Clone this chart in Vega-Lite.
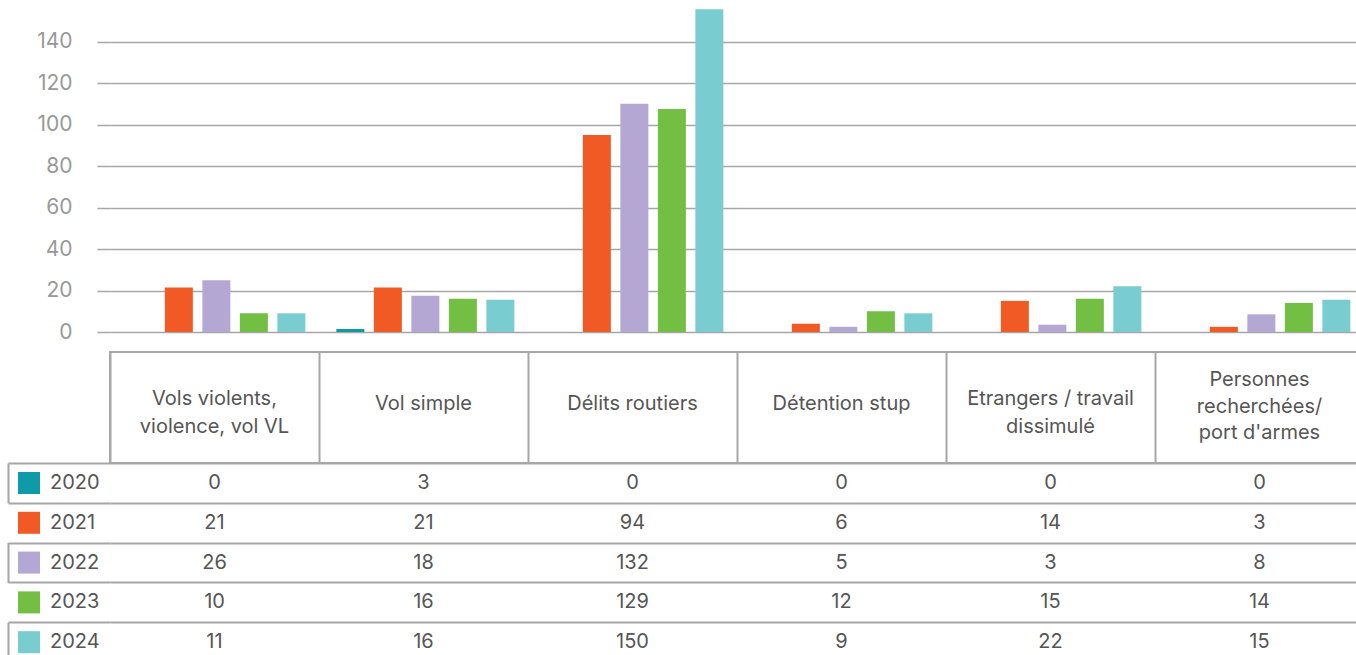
{
  "$schema": "https://vega.github.io/schema/vega-lite/v6.json",
  "padding": 0,
  "spacing": 0,
  "bounds": "flush",
  "config": {"view": {"stroke": null}, "font": "Inter", "text": {"font": "Inter"}},
  "datasets": {
    "rows": [
      {"cat": "Vols violents, violence, vol VL", "year": "2020", "bar": 0, "value": 0},
      {"cat": "Vols violents, violence, vol VL", "year": "2021", "bar": 21.5, "value": 21},
      {"cat": "Vols violents, violence, vol VL", "year": "2022", "bar": 25, "value": 26},
      {"cat": "Vols violents, violence, vol VL", "year": "2023", "bar": 9, "value": 10},
      {"cat": "Vols violents, violence, vol VL", "year": "2024", "bar": 9, "value": 11},
      {"cat": "Vol simple", "year": "2020", "bar": 1.5, "value": 3},
      {"cat": "Vol simple", "year": "2021", "bar": 21.5, "value": 21},
      {"cat": "Vol simple", "year": "2022", "bar": 17.5, "value": 18},
      {"cat": "Vol simple", "year": "2023", "bar": 16, "value": 16},
      {"cat": "Vol simple", "year": "2024", "bar": 15.5, "value": 16},
      {"cat": "Délits routiers", "year": "2020", "bar": 0, "value": 0},
      {"cat": "Délits routiers", "year": "2021", "bar": 95, "value": 94},
      {"cat": "Délits routiers", "year": "2022", "bar": 110, "value": 132},
      {"cat": "Délits routiers", "year": "2023", "bar": 107.5, "value": 129},
      {"cat": "Délits routiers", "year": "2024", "bar": 155.5, "value": 150},
      {"cat": "Détention stup", "year": "2020", "bar": 0, "value": 0},
      {"cat": "Détention stup", "year": "2021", "bar": 4, "value": 6},
      {"cat": "Détention stup", "year": "2022", "bar": 2.5, "value": 5},
      {"cat": "Détention stup", "year": "2023", "bar": 10, "value": 12},
      {"cat": "Détention stup", "year": "2024", "bar": 9, "value": 9},
      {"cat": "Etrangers / travail dissimulé", "year": "2020", "bar": 0, "value": 0},
      {"cat": "Etrangers / travail dissimulé", "year": "2021", "bar": 15, "value": 14},
      {"cat": "Etrangers / travail dissimulé", "year": "2022", "bar": 3.5, "value": 3},
      {"cat": "Etrangers / travail dissimulé", "year": "2023", "bar": 16, "value": 15},
      {"cat": "Etrangers / travail dissimulé", "year": "2024", "bar": 22, "value": 22},
      {"cat": "Personnes recherchées/ port d'armes", "year": "2020", "bar": 0, "value": 0},
      {"cat": "Personnes recherchées/ port d'armes", "year": "2021", "bar": 2.5, "value": 3},
      {"cat": "Personnes recherchées/ port d'armes", "year": "2022", "bar": 8.5, "value": 8},
      {"cat": "Personnes recherchées/ port d'armes", "year": "2023", "bar": 14, "value": 14},
      {"cat": "Personnes recherchées/ port d'armes", "year": "2024", "bar": 15.5, "value": 15}
    ],
    "headers": [
      {"cat": "Vols violents, violence, vol VL", "label": "Vols violents,\nviolence, vol VL"},
      {"cat": "Vol simple", "label": "Vol simple"},
      {"cat": "Délits routiers", "label": "Délits routiers"},
      {"cat": "Détention stup", "label": "Détention stup"},
      {"cat": "Etrangers / travail dissimulé", "label": "Etrangers / travail\ndissimulé"},
      {"cat": "Personnes recherchées/ port d'armes", "label": "Personnes\nrecherchées/\nport d'armes"}
    ]
  },
  "vconcat": [
    {
      "width": 1254,
      "height": 352,
      "data": {"name": "rows"},
      "mark": {"type": "bar"},
      "encoding": {
        "x": {
          "field": "cat", "type": "nominal",
          "scale": {"domain": ["Vols violents, violence, vol VL", "Vol simple", "Délits routiers", "Détention stup", "Etrangers / travail dissimulé", "Personnes recherchées/ port d'armes"], "paddingInner": 0, "paddingOuter": 0},
          "axis": null
        },
        "xOffset": {"field": "year", "type": "nominal", "scale": {"paddingInner": 0.2533, "paddingOuter": 0.413, "align": 0.56}},
        "y": {
          "field": "bar", "type": "quantitative",
          "scale": {"domain": [0, 160], "nice": false, "range": [332, 0]},
          "axis": {"values": [0, 20, 40, 60, 80, 100, 120, 140], "title": null, "domain": false, "grid": true, "gridColor": "#a6a6a6", "gridWidth": 1.5, "ticks": true, "tickSize": 13, "tickColor": "#a6a6a6", "tickWidth": 1.5, "labelPadding": 25, "labelFontSize": 21, "labelColor": "#999999", "labelFont": "Inter", "minExtent": 110, "maxExtent": 110}
        },
        "color": {
          "field": "year", "type": "nominal",
          "scale": {"domain": ["2020", "2021", "2022", "2023", "2024"], "range": ["#0e9aa7", "#f15a24", "#b4a7d3", "#72bf44", "#79cdd0"]},
          "legend": {"orient": "none", "legendX": -92, "legendY": 472, "title": null, "symbolType": "square", "symbolSize": 484, "symbolStrokeWidth": 0, "labelFontSize": 20, "labelColor": "#555555", "labelFont": "Inter", "labelOffset": 10, "rowPadding": 17.8, "padding": 0}
        }
      }
    },
    {
      "width": 1254,
      "height": 111,
      "view": {"stroke": "#a6a6a6", "strokeWidth": 2},
      "data": {"name": "headers"},
      "encoding": {
        "x": {
          "field": "cat", "type": "nominal",
          "scale": {"domain": ["Vols violents, violence, vol VL", "Vol simple", "Délits routiers", "Détention stup", "Etrangers / travail dissimulé", "Personnes recherchées/ port d'armes"], "paddingInner": 0, "paddingOuter": 0},
          "axis": {"labels": false, "ticks": false, "domain": false, "grid": true, "gridColor": "#a6a6a6", "gridWidth": 2, "tickBand": "extent", "title": null}
        },
        "text": {"field": "label"}
      },
      "layer": [
        {
          "transform": [{"filter": "length(split(datum.label, '\\n')) == 1"}],
          "mark": {"type": "text", "fontSize": 20, "color": "#555555", "lineBreak": "\n", "lineHeight": 27, "baseline": "middle", "align": "center", "font": "Inter", "dy": -3.5}
        },
        {
          "transform": [{"filter": "length(split(datum.label, '\\n')) == 2"}],
          "mark": {"type": "text", "fontSize": 20, "color": "#555555", "lineBreak": "\n", "lineHeight": 28, "baseline": "middle", "align": "center", "font": "Inter", "dy": -9}
        },
        {
          "transform": [{"filter": "length(split(datum.label, '\\n')) == 3"}],
          "mark": {"type": "text", "fontSize": 20, "color": "#555555", "lineBreak": "\n", "lineHeight": 26.5, "baseline": "middle", "align": "center", "font": "Inter", "dy": -27.5}
        }
      ]
    },
    {
      "width": 1254,
      "height": 199,
      "data": {"name": "rows"},
      "layer": [
        {
          "mark": {"type": "text", "fontSize": 20, "color": "#555555", "baseline": "middle", "align": "center", "font": "Inter"},
          "encoding": {
            "x": {
              "field": "cat", "type": "nominal",
              "scale": {"domain": ["Vols violents, violence, vol VL", "Vol simple", "Délits routiers", "Détention stup", "Etrangers / travail dissimulé", "Personnes recherchées/ port d'armes"], "paddingInner": 0, "paddingOuter": 0},
              "axis": {"labels": false, "ticks": false, "domain": false, "grid": true, "gridColor": "#a6a6a6", "gridWidth": 2, "tickBand": "extent", "title": null}
            },
            "y": {
              "field": "year", "type": "nominal",
              "scale": {"paddingInner": 0, "paddingOuter": 0},
              "axis": {"labels": false, "domain": false, "grid": true, "gridColor": "#a6a6a6", "gridWidth": 2, "ticks": true, "tickSize": 102, "tickColor": "#a6a6a6", "tickWidth": 2, "tickBand": "extent", "title": null}
            },
            "text": {"field": "value"}
          }
        },
        {
          "mark": {"type": "text", "opacity": 0, "fontSize": 20},
          "encoding": {
            "x": {"field": "cat", "type": "nominal", "axis": null},
            "y": {
              "field": "year", "type": "nominal",
              "axis": {"orient": "left", "offset": 102, "labels": false, "ticks": false, "grid": false, "domain": true, "domainColor": "#a6a6a6", "domainWidth": 2, "domainDash": [39.8, 39.8], "title": null}
            },
            "text": {"field": "value"}
          }
        }
      ],
      "resolve": {"axis": {"y": "independent"}}
    }
  ]
}
